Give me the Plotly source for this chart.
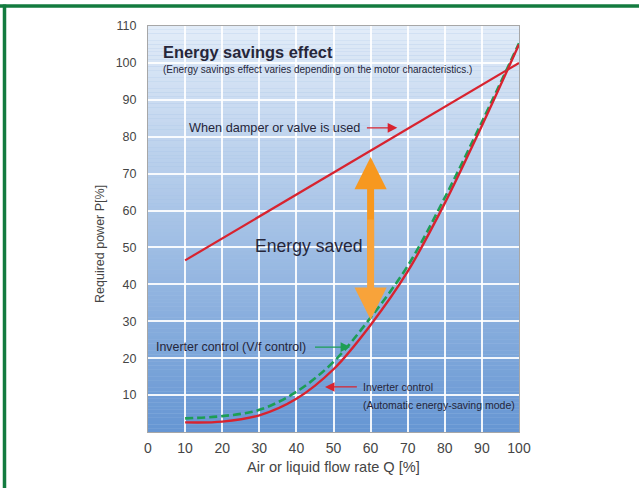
import plotly.graph_objects as go

# ---------------- data ----------------
flow_rate = [10, 20, 30, 40, 50, 60, 70, 80, 90, 100]
inverter_auto = [2.6, 2.8, 4.5, 9.0, 17.0, 29.0, 43.5, 62.0, 83.0, 105.0]
inverter_vf = [3.7, 4.3, 6.0, 10.9, 19.0, 31.0, 45.0, 63.5, 84.0, 105.3]
damper_x = [10, 100]
damper_y = [46.5, 100.0]
x_ticks = list(range(0, 101, 10))
y_ticks = list(range(10, 111, 10))

# ---------------- layout constants ----------------
W, H = 639, 488
ML, MR, MT, MB = 148, 120, 26, 56
FONT = "Liberation Sans, Arial, sans-serif"
TEXT = "#26263a"
AXTEXT = "#454545"
RED = "#d8232f"
GREEN = "#1d9e55"
ORANGE = "#f7981f"

fig = go.Figure()

fig.add_trace(go.Scatter(x=damper_x, y=damper_y, mode="lines",
                         line=dict(color=RED, width=2.2), hoverinfo="skip"))
fig.add_trace(go.Scatter(x=flow_rate, y=inverter_vf, mode="lines",
                         line=dict(color=GREEN, width=2.6, dash="8px,4px", shape="spline"),
                         hoverinfo="skip"))
fig.add_trace(go.Scatter(x=flow_rate, y=inverter_auto, mode="lines",
                         line=dict(color=RED, width=2.4, shape="spline"),
                         hoverinfo="skip"))

# gradient background (bands, below gridlines)
top_rgb = (226, 236, 248)
bot_rgb = (102, 150, 211)
n_bands = 110
shapes = []
for i in range(n_bands):
    t = i / (n_bands - 1)
    c = tuple(round(bot_rgb[k] + (top_rgb[k] - bot_rgb[k]) * t) for k in range(3))
    y0 = 110 * i / n_bands
    y1 = 110 * (i + 1) / n_bands
    shapes.append(dict(type="rect", xref="x", yref="y", x0=0, x1=100, y0=y0, y1=y1,
                       fillcolor="rgb(%d,%d,%d)" % c, line=dict(width=0), layer="below"))

# pixel -> paper helpers
pw = W - ML - MR
ph = H - MT - MB
def px_to_paper_x(px):
    return (px - ML) / pw
def py_to_paper_y(py):
    return (H - MB - py) / ph

# green frame (top and left)
shapes.append(dict(type="line", xref="paper", yref="paper",
                   x0=px_to_paper_x(0), x1=px_to_paper_x(W),
                   y0=py_to_paper_y(6), y1=py_to_paper_y(6),
                   line=dict(color="#137b3f", width=3.5), layer="above"))
shapes.append(dict(type="line", xref="paper", yref="paper",
                   x0=px_to_paper_x(4.5), x1=px_to_paper_x(4.5),
                   y0=py_to_paper_y(4.5), y1=py_to_paper_y(H),
                   line=dict(color="#137b3f", width=3.5), layer="above"))

annotations = [
    dict(x=px_to_paper_x(100), y=py_to_paper_y(244), xref="paper", yref="paper",
         text="Required power P[%]", textangle=-90, showarrow=False,
         xanchor="center", yanchor="middle",
         font=dict(family=FONT, size=12.5, color=AXTEXT)),
    dict(x=3.6, y=103, xref="x", yref="y", text="<b>Energy savings effect</b>",
         showarrow=False, xanchor="left", yanchor="middle",
         font=dict(family=FONT, size=16.4, color=TEXT)),
    dict(x=3.6, y=98.2, xref="x", yref="y",
         text="(Energy savings effect varies depending on the motor characteristics.)",
         showarrow=False, xanchor="left", yanchor="middle",
         font=dict(family=FONT, size=10, color=TEXT)),
    dict(x=10.4, y=82.4, xref="x", yref="y", text="When damper or valve is used",
         showarrow=False, xanchor="left", yanchor="middle",
         font=dict(family=FONT, size=12.7, color=TEXT)),
    dict(x=67.2, y=82.4, ax=58.6, ay=82.4, xref="x", yref="y", axref="x", ayref="y",
         text="", showarrow=True, arrowhead=2, arrowsize=1.6, arrowwidth=1.2,
         arrowcolor=RED),
    dict(x=28.4, y=50.4, xref="x", yref="y", text="Energy saved",
         showarrow=False, xanchor="left", yanchor="middle",
         font=dict(family=FONT, size=17.6, color=TEXT)),
    # orange double arrow (two overlapping halves)
    dict(x=60, y=74.5, ax=60, ay=46, xref="x", yref="y", axref="x", ayref="y",
         text="", showarrow=True, arrowhead=2, arrowsize=0.92, arrowwidth=7,
         arrowcolor=ORANGE),
    dict(x=60, y=30.4, ax=60, ay=58, xref="x", yref="y", axref="x", ayref="y",
         text="", showarrow=True, arrowhead=2, arrowsize=0.92, arrowwidth=7,
         arrowcolor="#f8a33a"),
    dict(x=1.5, y=23.0, xref="x", yref="y", text="Inverter control (V/f control)",
         showarrow=False, xanchor="left", yanchor="middle",
         font=dict(family=FONT, size=12.4, color=TEXT)),
    dict(x=54.5, y=23.0, ax=44.6, ay=23.0, xref="x", yref="y", axref="x", ayref="y",
         text="", showarrow=True, arrowhead=2, arrowsize=1.6, arrowwidth=1.2,
         arrowcolor=GREEN),
    dict(x=57.5, y=12.2, xref="x", yref="y", text="Inverter control",
         showarrow=False, xanchor="left", yanchor="middle",
         font=dict(family=FONT, size=10.5, color=TEXT)),
    dict(x=57.5, y=7.3, xref="x", yref="y", text="(Automatic energy-saving mode)",
         showarrow=False, xanchor="left", yanchor="middle",
         font=dict(family=FONT, size=10.5, color=TEXT)),
    dict(x=47.7, y=12.2, ax=56.7, ay=12.2, xref="x", yref="y", axref="x", ayref="y",
         text="", showarrow=True, arrowhead=2, arrowsize=1.6, arrowwidth=1.2,
         arrowcolor=RED),
]

fig.update_layout(
    width=W, height=H,
    margin=dict(l=ML, r=MR, t=MT, b=MB),
    paper_bgcolor="white",
    plot_bgcolor="rgb(160,190,228)",
    showlegend=False,
    shapes=shapes,
    annotations=annotations,
    font=dict(family=FONT, color=AXTEXT),
    xaxis=dict(range=[0, 100], tickvals=x_ticks, ticktext=[str(v) for v in x_ticks],
               showgrid=True, gridcolor="rgba(255,255,255,0.9)", gridwidth=1.5,
               zeroline=False, showline=True, linecolor="#a7a7a7", linewidth=1, mirror=True,
               ticks="", ticklabelstandoff=3,
               tickfont=dict(family=FONT, size=14, color=AXTEXT),
               title=dict(text="Air or liquid flow rate Q [%]", standoff=6,
                          font=dict(family=FONT, size=14.6, color=AXTEXT))),
    yaxis=dict(range=[0, 110], tickvals=y_ticks, ticktext=[str(v) for v in y_ticks],
               showgrid=True, gridcolor="rgba(255,255,255,0.9)", gridwidth=1.5,
               zeroline=False, showline=True, linecolor="#a7a7a7", linewidth=1, mirror=True,
               ticks="", ticklabelstandoff=8,
               tickfont=dict(family=FONT, size=12.5, color=AXTEXT)),
)

fig.write_html("out.html", config={"displayModeBar": False},
               post_script="document.body.style.margin='0';")
